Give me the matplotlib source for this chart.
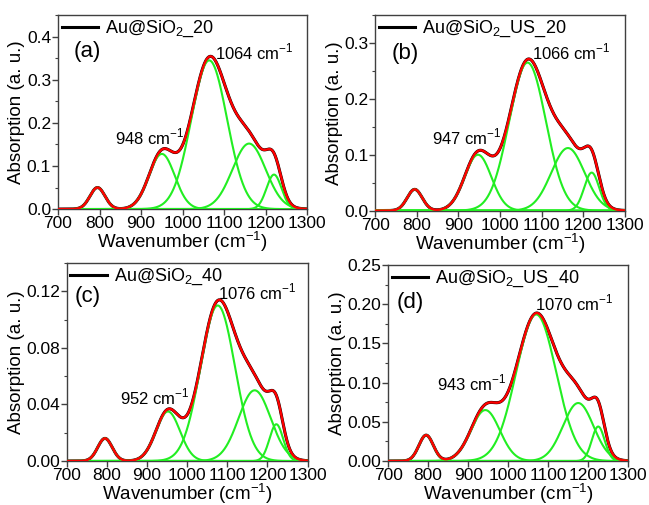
import matplotlib
matplotlib.use("Agg")
import matplotlib.pyplot as plt
import numpy as np
from matplotlib.ticker import MultipleLocator, FormatStrFormatter

plt.rcParams["font.family"] = ["Liberation Sans", "DejaVu Sans"]
plt.rcParams["mathtext.fontset"] = "custom"
plt.rcParams["mathtext.rm"] = "Liberation Sans"

# Gaussian components: centre, height, sigma
CENTERS_A = [795, 950, 1064, 1160, 1220]
HEIGHTS_A = [0.050, 0.128, 0.345, 0.152, 0.080]
SIGMAS_A = [18, 31, 43, 40, 18]

CENTERS_B = [795, 947, 1066, 1163, 1220]
HEIGHTS_B = [0.038, 0.100, 0.265, 0.112, 0.068]
SIGMAS_B = [18, 32, 44, 40, 18]

CENTERS_C = [795, 952, 1076, 1168, 1222]
HEIGHTS_C = [0.016, 0.035, 0.110, 0.050, 0.026]
SIGMAS_C = [18, 30, 43, 40, 17]

CENTERS_D = [795, 943, 1070, 1175, 1225]
HEIGHTS_D = [0.033, 0.065, 0.187, 0.074, 0.044]
SIGMAS_D = [18, 36, 50, 38, 16]

LABELS = [r"Au@SiO$_2$_20", r"Au@SiO$_2$_US_20",
          r"Au@SiO$_2$_40", r"Au@SiO$_2$_US_40"]
TAGS = ["(a)", "(b)", "(c)", "(d)"]
PEAK1 = ["948", "947", "952", "943"]
PEAK2 = ["1064", "1066", "1076", "1070"]

# axes rect, ymax, major, minor, format, tag pos, peak1 pos, peak2 pos
panels = [
    (CENTERS_A, HEIGHTS_A, SIGMAS_A, [0.0894, 0.586, 0.384, 0.384], 0.45, 0.1, 0.05, "%.1f",
     (0.116, 0.81), (0.229, 0.371), (0.63, 0.81)),
    (CENTERS_B, HEIGHTS_B, SIGMAS_B, [0.578, 0.583, 0.385, 0.387], 0.35, 0.1, 0.05, "%.1f",
     (0.12, 0.806), (0.227, 0.378), (0.627, 0.81)),
    (CENTERS_C, HEIGHTS_C, SIGMAS_C, [0.103, 0.0871, 0.371, 0.392], 0.14, 0.04, 0.02, "%.2f",
     (0.087, 0.83), (0.22, 0.325), (0.627, 0.853)),
    (CENTERS_D, HEIGHTS_D, SIGMAS_D, [0.598, 0.0871, 0.370, 0.388], 0.25, 0.05, 0.025, "%.2f",
     (0.092, 0.81), (0.203, 0.396), (0.6125, 0.805)),
]

x = np.linspace(700, 1300, 1201)
fig = plt.figure(figsize=(6.49, 5.05), dpi=100)

for i, (cen, hgt, sig, rect, ymax, major, minor, fmt, tpos, p1, p2) in enumerate(panels):
    ax = fig.add_axes(rect)
    comps = [h * np.exp(-(x - c) ** 2 / (2 * s ** 2)) for c, h, s in zip(cen, hgt, sig)]
    total = np.sum(comps, axis=0)
    ax.plot(x, total, color="black", lw=2.2, label=LABELS[i], zorder=2)
    for comp in comps:
        ax.plot(x, comp, color="#22ee22", lw=1.5, zorder=3)
    ax.plot(x, total, color="#ff0000", lw=1.7, zorder=4)

    ax.set_xlim(700, 1300)
    ax.set_ylim(0, ymax)
    ax.xaxis.set_major_locator(MultipleLocator(100))
    ax.yaxis.set_major_locator(MultipleLocator(major))
    ax.yaxis.set_minor_locator(MultipleLocator(minor))
    ax.yaxis.set_major_formatter(FormatStrFormatter(fmt))
    ax.tick_params(labelsize=12.5, length=4, width=1, color="#404040", pad=1)
    ax.tick_params(which="minor", length=2.5, width=0.8, color="#404040")
    for sp in ax.spines.values():
        sp.set_color("#404040")
        sp.set_linewidth(1.0)
    ax.set_xlabel(r"Wavenumber (cm$^{-1}$)", fontsize=13.5, labelpad=-1)
    ax.set_ylabel("Absorption (a. u.)", fontsize=13.5, labelpad=1)

    ax.legend(loc="upper left", frameon=False, fontsize=13, handlelength=2.0,
              handletextpad=0.4, borderaxespad=0.0, borderpad=0.2)
    ax.text(tpos[0], tpos[1], TAGS[i], transform=ax.transAxes, fontsize=16,
            ha="center", va="center")
    ax.text(p1[0], p1[1], PEAK1[i] + r" cm$^{-1}$",
            transform=ax.transAxes, fontsize=12, va="center")
    ax.text(p2[0], p2[1], PEAK2[i] + r" cm$^{-1}$",
            transform=ax.transAxes, fontsize=12, va="center")

fig.savefig("out.png", dpi=100)
